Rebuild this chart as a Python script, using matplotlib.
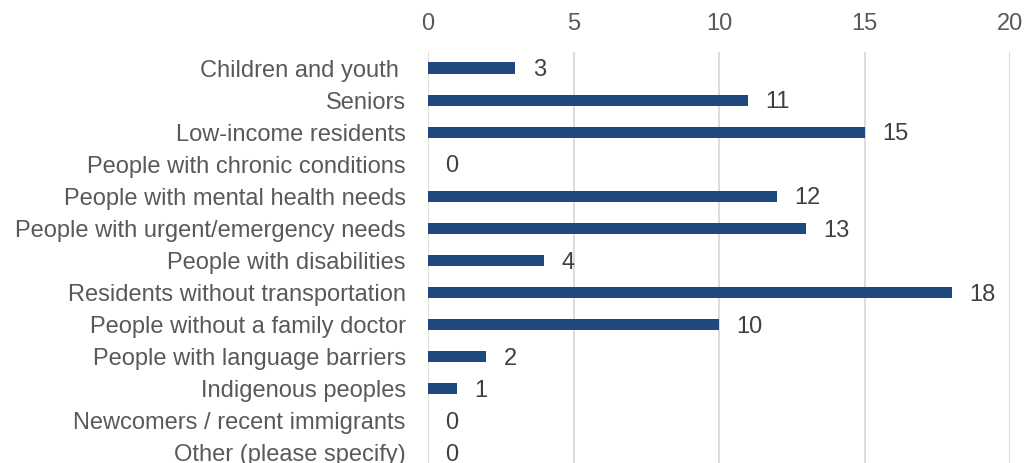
import matplotlib
matplotlib.use("Agg")
import matplotlib.pyplot as plt

categories = ["Children and youth ", "Seniors", "Low-income residents",
              "People with chronic conditions", "People with mental health needs",
              "People with urgent/emergency needs", "People with disabilities",
              "Residents without transportation", "People without a family doctor",
              "People with language barriers", "Indigenous peoples",
              "Newcomers / recent immigrants", "Other (please specify)"]
values = [3, 11, 15, 0, 12, 13, 4, 18, 10, 2, 1, 0, 0]
xticks = [0, 5, 10, 15, 20]

plt.rcParams['font.family'] = ['Liberation Sans', 'DejaVu Sans']
fig = plt.figure(figsize=(10.27, 4.63), dpi=100)
ax = fig.add_axes([428/1027, 1 - 469/463, (1010-428)/1027, 417/463])
y = list(range(len(categories)))
ax.barh(y, values, height=0.35, color="#1F497D", zorder=3)
for yi, v in zip(y, values):
    ax.annotate(str(v), xy=(v, yi), xytext=(12.5, -1.5), textcoords="offset points",
                va="center", ha="left", fontsize=17, color="#404040")
ax.set_ylim(len(categories) - 0.5, -0.5)
ax.set_xlim(0, 20)
ax.set_yticks(y)
ax.set_yticklabels(categories, fontsize=17, color="#595959")
ax.set_xticks(xticks)
ax.set_xticklabels([str(t) for t in xticks], fontsize=17, color="#595959")
ax.xaxis.tick_top()
ax.tick_params(axis="y", length=0, pad=16)
ax.tick_params(axis="x", length=0, pad=12)
ax.grid(axis="x", color="#d9d9d9", linewidth=1.3, zorder=0)
for s in ax.spines.values():
    s.set_visible(False)
fig.savefig("out.png", dpi=100)
